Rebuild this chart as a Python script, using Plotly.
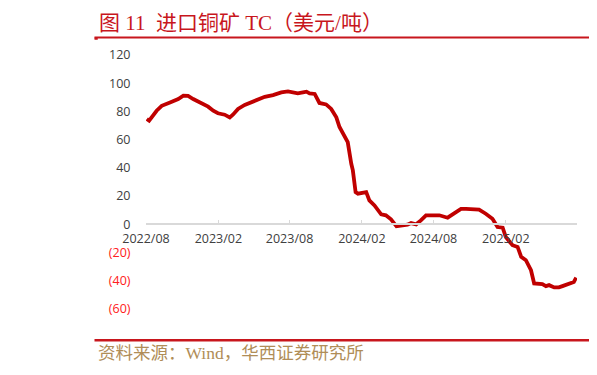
import plotly.graph_objects as go

# ---- data ----
dates = [
    "2022-08-03", "2022-08-09", "2022-08-28", "2022-09-10", "2022-10-01", "2022-10-22",
    "2022-11-04", "2022-11-16", "2022-11-29", "2022-12-16", "2023-01-06", "2023-01-19",
    "2023-01-31", "2023-02-17", "2023-03-02", "2023-03-10", "2023-03-23", "2023-04-09",
    "2023-04-26", "2023-05-13", "2023-05-30", "2023-06-20", "2023-07-11", "2023-07-28",
    "2023-08-10", "2023-08-22", "2023-09-04", "2023-09-13", "2023-09-21", "2023-10-04",
    "2023-10-16", "2023-11-02", "2023-11-15", "2023-11-28", "2023-12-06", "2023-12-14",
    "2023-12-27", "2024-01-05", "2024-01-09", "2024-01-16", "2024-01-22", "2024-02-12",
    "2024-02-20", "2024-03-04", "2024-03-21", "2024-04-02", "2024-04-15", "2024-04-29",
    "2024-05-15", "2024-05-27", "2024-06-05", "2024-06-18", "2024-06-30", "2024-07-13",
    "2024-07-30", "2024-08-16", "2024-09-06", "2024-09-23", "2024-10-10", "2024-10-23",
    "2024-11-08", "2024-11-25", "2024-12-12", "2024-12-29", "2025-01-11", "2025-01-24",
    "2025-02-01", "2025-02-18", "2025-03-03", "2025-03-12", "2025-03-24", "2025-04-06",
    "2025-04-14", "2025-05-05", "2025-05-14", "2025-05-22", "2025-06-04", "2025-06-16",
    "2025-06-25", "2025-07-12", "2025-07-24", "2025-07-30",
]
tc_values = [
    74.7, 73.5, 80.5, 84.0, 86.4, 88.8,
    91.2, 91.0, 88.8, 86.4, 83.4, 80.5,
    78.7, 77.7, 75.8, 77.7, 81.8, 84.6,
    86.4, 88.8, 90.4, 91.6, 93.5, 94.2,
    93.5, 92.8, 93.5, 94.0, 92.8, 92.4,
    86.0, 85.0, 81.8, 75.8, 69.0, 65.2,
    58.2, 42.9, 38.2, 22.8, 21.7, 22.8,
    17.0, 13.4, 7.1, 6.4, 3.5, -1.4,
    -0.7, -0.2, 0.9, 0.0, 2.8, 6.4,
    6.4, 6.4, 4.7, 7.5, 11.0, 11.0,
    10.4, 10.4, 7.5, 4.0, -1.9, -2.4,
    -9.0, -14.8, -16.0, -23.0, -25.4, -32.5,
    -41.9, -42.4, -43.8, -43.1, -44.7, -44.7,
    -43.8, -42.4, -40.8, -37.7,
]
x_tick_vals = ["2022-08-01", "2023-02-01", "2023-08-01", "2024-02-01", "2024-08-01", "2025-02-01"]
x_tick_text = ["2022/08", "2023/02", "2023/08", "2024/02", "2024/08", "2025/02"]
y_tick_vals = [120, 100, 80, 60, 40, 20, 0, -20, -40, -60]
y_tick_text = ["120", "100", "80", "60", "40", "20", "0",
               "<span style='color:#ff2020'>(20)</span>",
               "<span style='color:#ff2020'>(40)</span>",
               "<span style='color:#ff2020'>(60)</span>"]
title_text = "图 11  进口铜矿 TC（美元/吨）"
source_text = "资料来源：Wind，华西证券研究所"

Y_MIN, Y_MAX = -60, 120

fig = go.Figure()
fig.add_trace(go.Scatter(
    x=dates, y=tc_values, mode="lines",
    line=dict(color="#c00000", width=3.8),
    showlegend=False,
))

RED = "#c8161d"
# page body has an 8px margin, so the figure is 8px smaller and shifted accordingly
fig.update_layout(
    width=589, height=367,
    margin=dict(l=138, r=20, t=47, b=66),
    paper_bgcolor="white", plot_bgcolor="white",
    font=dict(family="Open Sans, Noto Sans CJK SC, sans-serif", size=13, color="#404040"),
    xaxis=dict(
        type="date",
        range=["2022-08-01", "2025-08-01"],
        tickvals=x_tick_vals, ticktext=x_tick_text,
        anchor="free", position=(0 - Y_MIN) / (Y_MAX - Y_MIN),
        showline=True, linecolor="#d9d9d9", linewidth=1.5,
        ticks="inside", ticklen=4, tickcolor="#d9d9d9", tickwidth=1,
        ticklabelstandoff=3,
        showgrid=False, zeroline=False,
        tickfont=dict(size=12.5, color="#404040"),
    ),
    yaxis=dict(
        range=[Y_MIN, Y_MAX],
        tickvals=y_tick_vals, ticktext=y_tick_text,
        showgrid=False, zeroline=False, showline=False,
        ticks="outside", ticklen=12, tickcolor="rgba(0,0,0,0)",
        tickfont=dict(size=12.5, color="#404040"),
    ),
    shapes=[
        dict(type="line", xref="paper", yref="paper",
             x0=-0.1195, x1=1.037, y0=1.069, y1=1.069,
             line=dict(color=RED, width=2)),
        dict(type="rect", xref="paper", yref="paper",
             x0=-0.1195, x1=-0.112, y0=1.069, y1=1.060,
             line=dict(width=0), fillcolor=RED),
        dict(type="line", xref="paper", yref="paper",
             x0=-0.1195, x1=1.037, y0=-0.123, y1=-0.123,
             line=dict(color=RED, width=2.5)),
    ],
    annotations=[
        dict(text=title_text, xref="paper", yref="paper", x=-0.114, y=1.126,
             xanchor="left", yanchor="middle", showarrow=False,
             font=dict(family="Liberation Serif, Noto Sans CJK SC, serif", size=21, color=RED)),
        dict(text=source_text, xref="paper", yref="paper", x=-0.116, y=-0.173,
             xanchor="left", yanchor="middle", showarrow=False,
             font=dict(family="Liberation Serif, Noto Sans CJK SC, serif", size=17.5, color="#b08d57")),
    ],
)

fig.write_html("out.html")
